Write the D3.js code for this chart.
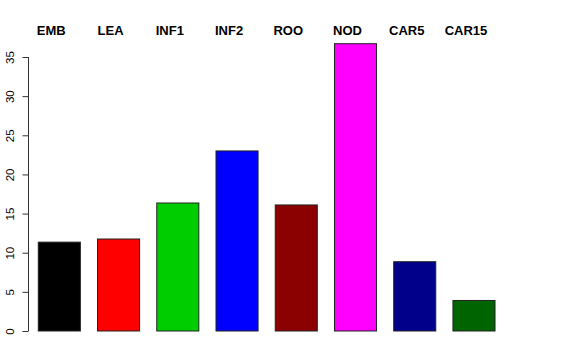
<!DOCTYPE html>
<html>
<head>
<meta charset="utf-8">
<script src="https://cdn.jsdelivr.net/npm/d3@7"></script>
<style>
  body { margin: 0; background: #fff; }
  svg { display: block; }
</style>
</head>
<body>
<div id="chart"></div>
<script>
(function() {
  var categories = ["EMB", "LEA", "INF1", "INF2", "ROO", "NOD", "CAR5", "CAR15"];
  var values = [11.35, 11.75, 16.35, 23.0, 16.1, 36.7, 8.85, 3.9];
  var colors = ["#000000", "#ff0000", "#00cd00", "#0000ff", "#8b0000", "#ff00ff", "#00008b", "#006400"];
  var yTicks = [0, 5, 10, 15, 20, 25, 30, 35];

  var outerWidth = 576,
      outerHeight = 360;

  var svg = d3.select("#chart").append("svg")
      .attr("width", outerWidth)
      .attr("height", outerHeight)
      .style("font-family", "'Liberation Sans', Arial, Helvetica, sans-serif");

  var x = d3.scaleBand()
      .domain(categories)
      .range([29.7, 503.6])
      .paddingInner(0.29)
      .paddingOuter(0.145);

  var y = d3.scaleLinear()
      .domain([0, 35])
      .range([331, 57]);

  // y axis, R style: line only across the tick range
  var yAxis = d3.axisLeft(y)
      .tickValues(yTicks)
      .tickSize(6)
      .tickSizeOuter(0)
      .tickFormat(d3.format("d"));

  var axis = svg.append("g")
      .attr("transform", "translate(28.5,0)")
      .call(yAxis);

  axis.select(".domain")
      .attr("stroke", "#333")
      .attr("d", "M0," + y(0) + "V" + y(35));
  axis.selectAll(".tick line").attr("stroke", "#333");
  axis.selectAll(".tick text")
      .attr("x", null)
      .attr("dy", null)
      .attr("text-anchor", "middle")
      .attr("transform", "translate(-15,0) rotate(-90)")
      .style("font-size", "11.5px")
      .attr("fill", "#000");

  svg.append("g")
    .selectAll("rect")
    .data(values)
    .enter().append("rect")
      .attr("x", (_, i) => x(categories[i]))
      .attr("y", d => y(d))
      .attr("width", x.bandwidth())
      .attr("height", d => y(0) - y(d))
      .attr("fill", (_, i) => colors[i])
      .attr("stroke", "#222")
      .attr("stroke-width", 1);

  svg.append("g")
    .selectAll("text")
    .data(categories)
    .enter().append("text")
      .attr("x", d => x(d) + x.bandwidth() / 2 - 8)
      .attr("y", 35)
      .attr("text-anchor", "middle")
      .style("font-size", "13px")
      .style("font-weight", "bold")
      .text(d => d);
})();
</script>
</body>
</html>
